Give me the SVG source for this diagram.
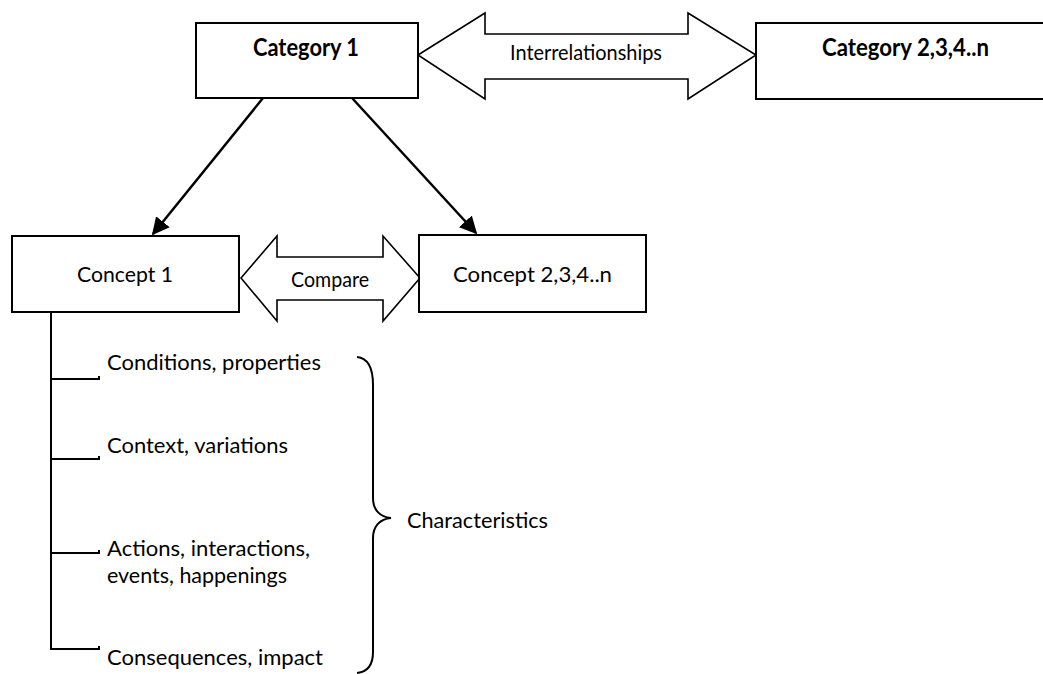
<svg xmlns="http://www.w3.org/2000/svg" width="1043" height="674" viewBox="0 0 1043 674">
  <style>
    .box { fill: #fff; stroke: #000; stroke-width: 2; }
    .block { fill: #fff; stroke: #000; stroke-width: 1.6; stroke-linejoin: miter; }
    .link { fill: none; stroke: #000; stroke-width: 2.5; }
    .tree { fill: none; stroke: #000; stroke-width: 2; }
    text { font-family: Lato, "Open Sans", "Liberation Sans", sans-serif; fill: #000; font-size: 21px; }
    .bold { font-weight: bold; font-size: 24px; }
  </style>
  <defs>
    <marker id="arrowhead" viewBox="0 0 10 10" refX="9" refY="5" markerWidth="7" markerHeight="7" markerUnits="strokeWidth" orient="auto">
      <path d="M0,0 L10,5 L0,10 z" fill="#000"/>
    </marker>
  </defs>

  <rect width="1043" height="674" fill="#fff"/>

  <!-- connectors -->
  <g id="connectors">
    <line class="link" x1="263" y1="98" x2="153" y2="234" marker-end="url(#arrowhead)"/>
    <line class="link" x1="352" y1="98" x2="476" y2="233" marker-end="url(#arrowhead)"/>
    <!-- double block arrow: Interrelationships -->
    <g id="interrelationships">
      <polygon class="block" points="418,55 485,13 485,34 688,34 688,13 756,55 688,99 688,79 485,79 485,99"/>
      <text x="510" y="60" textLength="152" lengthAdjust="spacingAndGlyphs">Interrelationships</text>
    </g>
    <!-- double block arrow: Compare -->
    <g id="compare">
      <polygon class="block" points="241,278 277,236 277,257 383,257 383,236 420,278 383,321 383,300 277,300 277,321"/>
      <text x="291" y="287" textLength="78" lengthAdjust="spacingAndGlyphs">Compare</text>
    </g>
    <!-- characteristic tree -->
    <g id="tree">
      <line class="tree" x1="51" y1="312" x2="51" y2="650"/>
      <path class="tree" d="M51,379 H99 v-3"/>
      <path class="tree" d="M51,459 H99 v-3"/>
      <path class="tree" d="M51,553 H99 v-3"/>
      <path class="tree" d="M51,649 H99 v-3"/>
    </g>
  </g>

  <g id="category1">
    <rect class="box" x="196" y="23" width="222" height="75"/>
    <text class="bold" x="253" y="56" textLength="106" lengthAdjust="spacingAndGlyphs">Category 1</text>
  </g>

  <g id="category2">
    <rect class="box" x="756" y="23" width="300" height="76"/>
    <text class="bold" x="822" y="56" textLength="167" lengthAdjust="spacingAndGlyphs">Category 2,3,4..n</text>
  </g>

  <g id="concept1">
    <rect class="box" x="12" y="236" width="227" height="76"/>
    <text x="77" y="282" textLength="96" lengthAdjust="spacingAndGlyphs">Concept 1</text>
  </g>

  <g id="concept2">
    <rect class="box" x="419" y="235" width="227" height="77"/>
    <text x="453" y="282" textLength="159" lengthAdjust="spacingAndGlyphs">Concept 2,3,4..n</text>
  </g>

  <g id="conditions">
    <text x="107" y="370" textLength="214" lengthAdjust="spacingAndGlyphs">Conditions, properties</text>
  </g>
  <g id="context">
    <text x="107" y="453" textLength="181" lengthAdjust="spacingAndGlyphs">Context, variations</text>
  </g>
  <g id="actions">
    <text x="107" y="556" textLength="203" lengthAdjust="spacingAndGlyphs">Actions, interactions,</text>
    <text x="107" y="583" textLength="180" lengthAdjust="spacingAndGlyphs">events, happenings</text>
  </g>
  <g id="consequences">
    <text x="107" y="665" textLength="216" lengthAdjust="spacingAndGlyphs">Consequences, impact</text>
  </g>

  <g id="characteristics">
    <path class="tree" d="M357,357 C367,358 373,366 373,385 L373,498 C373,510 380,517 391,518 C380,519 373,526 373,538 L373,652 C373,665 367,672 357,673"/>
    <text x="407" y="528" textLength="141" lengthAdjust="spacingAndGlyphs">Characteristics</text>
  </g>
</svg>
